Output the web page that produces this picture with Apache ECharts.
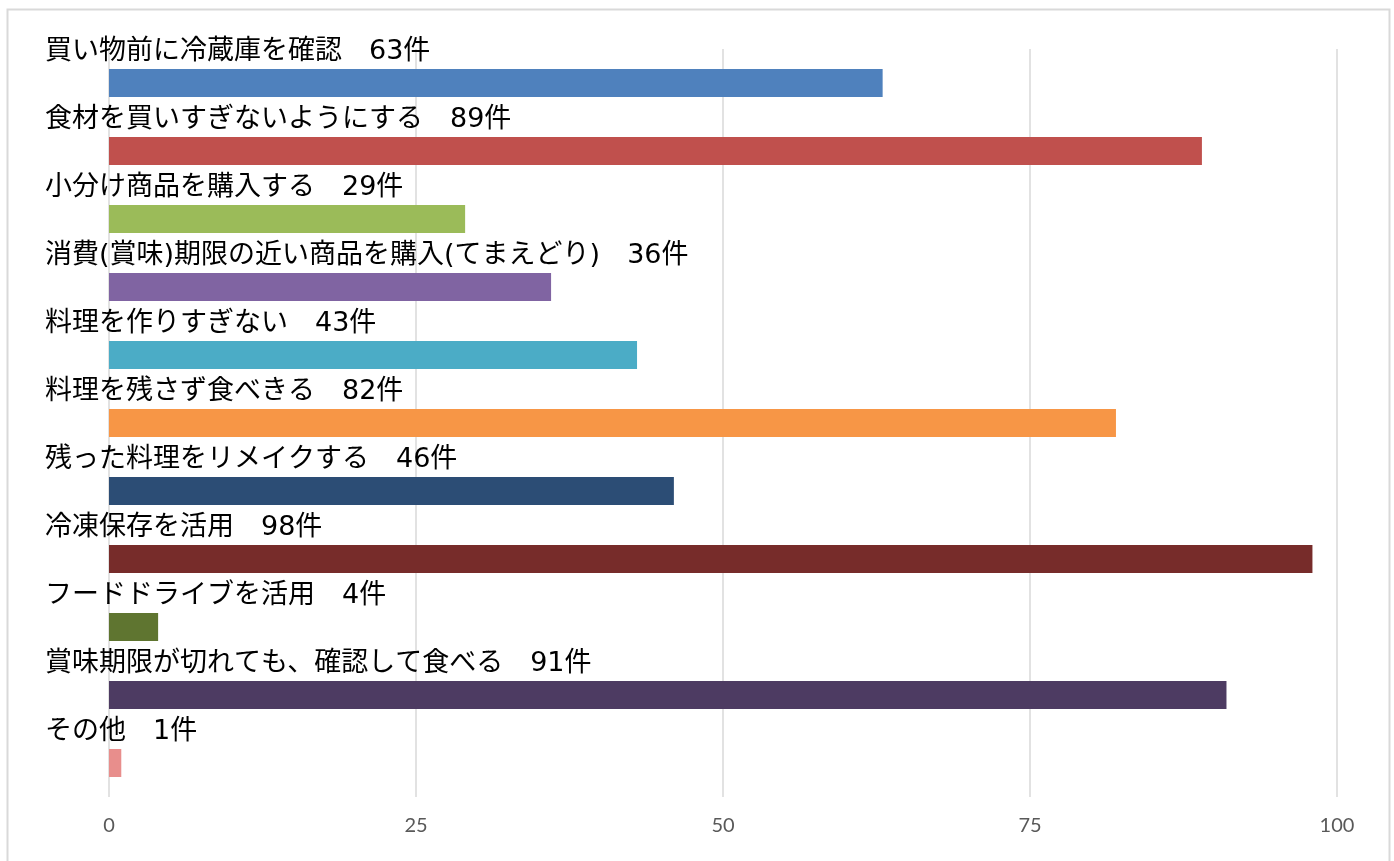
<!DOCTYPE html>
<html>
<head>
<meta charset="utf-8">
<script src="https://cdn.jsdelivr.net/npm/echarts@6/dist/echarts.min.js"></script>
<style>
    html, body { margin: 0; padding: 0; background: #fff; }
    #main { width: 1394px; height: 861px; }
</style>
</head>
<body>
<div id="main"></div>
<script>
    var categories = [
        '買い物前に冷蔵庫を確認',
        '食材を買いすぎないようにする',
        '小分け商品を購入する',
        '消費(賞味)期限の近い商品を購入(てまえどり)',
        '料理を作りすぎない',
        '料理を残さず食べきる',
        '残った料理をリメイクする',
        '冷凍保存を活用',
        'フードドライブを活用',
        '賞味期限が切れても、確認して食べる',
        'その他'
    ];
    var counts = [63, 89, 29, 36, 43, 82, 46, 98, 4, 91, 1];
    var barColors = ['#4F81BD', '#C0504D', '#9BBB59', '#8064A2', '#4BACC6', '#F79646',
                     '#2C4D75', '#772C2A', '#5F7530', '#4D3B62', '#E88E8C'];
    var xTicks = [0, 25, 50, 75, 100];

    var myChart = echarts.init(document.getElementById('main'));
    var option = {
        backgroundColor: '#fff',
        animation: false,
        graphic: [{
            type: 'rect',
            silent: true,
            shape: { x: 7.5, y: 9.5, width: 1382, height: 870 },
            style: { fill: 'none', stroke: '#d9d9d9', lineWidth: 2 }
        }],
        grid: { left: 109, right: 57, top: 49, bottom: 64 },
        xAxis: {
            type: 'value',
            min: xTicks[0],
            max: xTicks[xTicks.length - 1],
            interval: 25,
            axisLine: { show: false },
            axisTick: { show: false },
            axisLabel: { color: '#595959', fontSize: 20, fontFamily: 'Lato', margin: 19 },
            splitLine: { lineStyle: { color: '#d9d9d9', width: 1.5 } }
        },
        yAxis: {
            type: 'category',
            inverse: true,
            data: categories,
            axisLine: { show: false },
            axisTick: { show: false },
            axisLabel: { show: false }
        },
        series: [{
            type: 'bar',
            barWidth: 28,
            data: counts.map(function (v, i) {
                return { value: v, itemStyle: { color: barColors[i] } };
            }),
            label: {
                show: true,
                position: [-64, -17],
                align: 'left',
                verticalAlign: 'middle',
                color: '#000',
                fontSize: 27,
                // 英数字はDejaVu、かな漢字はNoto CJK
                fontFamily: '"DejaVu Sans", "Noto Sans CJK JP", sans-serif',
                formatter: function (p) {
                    return p.name + '\u3000' + p.value + '件';
                }
            }
        }]
    };
    myChart.setOption(option);
</script>
</body>
</html>
